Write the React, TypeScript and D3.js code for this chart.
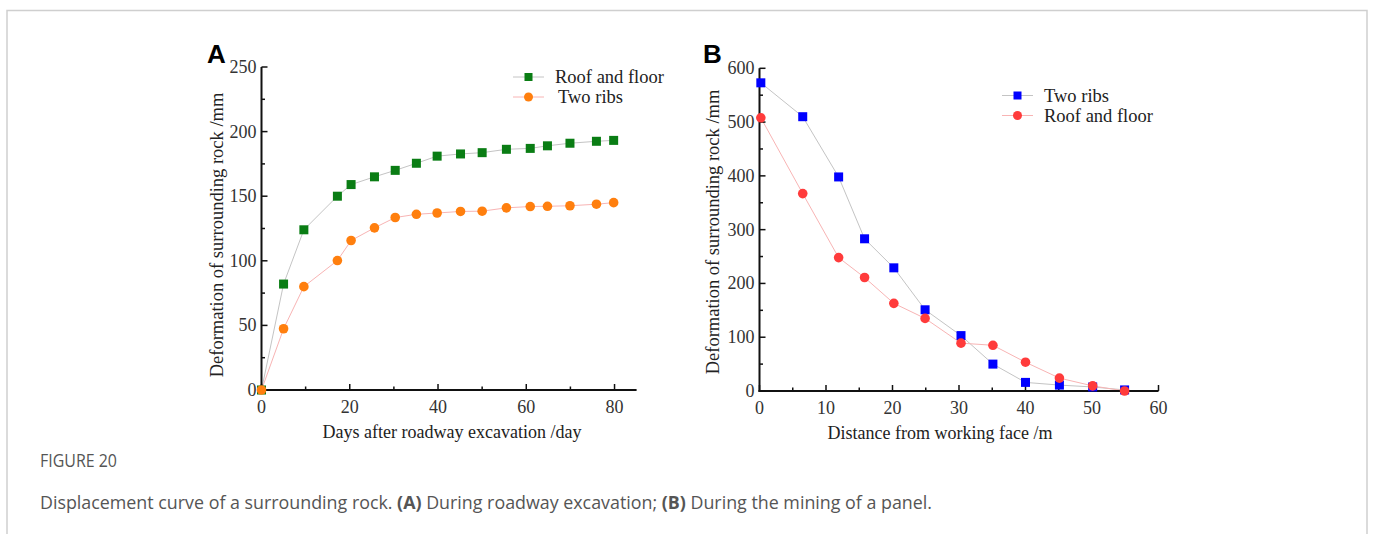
import React, { useEffect, useRef } from "react";
import * as d3 from "d3";

// Panel A: roadway excavation
const daysA = [0, 5, 9.6, 17.2, 20.3, 25.6, 30.3, 35.1, 39.8, 45.1, 50, 55.5, 60.9, 64.8, 69.9, 75.9, 79.8];
const roofFloorA = [0, 82, 124, 150, 159, 165, 170, 175.5, 181, 182.7, 183.7, 186.3, 187, 189, 191, 192.5, 193.2];
const twoRibsA = [0, 47.4, 80, 100.2, 115.7, 125.5, 133.5, 136, 137, 138.2, 138.4, 141, 142, 142.2, 142.6, 143.8, 145];

// Panel B: mining of a panel
const distB = [0.2, 6.5, 11.9, 15.8, 20.2, 24.9, 30.3, 35.1, 40, 45.1, 50.1, 54.9];
const twoRibsB = [573, 510, 398, 283, 229, 151, 103, 50, 16, 11, 7.5, 2];
const roofFloorB = [508, 367, 248, 211, 163, 135, 89, 85, 53.5, 24, 9.5, 0];

const ticksAx = [0, 20, 40, 60, 80];
const ticksAy = [0, 50, 100, 150, 200, 250];
const ticksBx = [0, 10, 20, 30, 40, 50, 60];
const ticksBy = [0, 100, 200, 300, 400, 500, 600];

const serif = "'Liberation Serif', 'DejaVu Serif', serif";
const sans = "'Open Sans', 'Liberation Sans', sans-serif";

function App() {
  const ref = useRef<SVGSVGElement>(null);

  useEffect(() => {
    const svg = d3.select(ref.current);
    svg.selectAll("*").remove();

    // outer frame
    svg.append("rect").attr("x", 7).attr("y", 10.5).attr("width", 1360).attr("height", 560)
      .attr("fill", "none").attr("stroke", "#cfcfcf").attr("stroke-width", 1.5);

    const panel = (opt: any) => {
      const { xs, ys, xTicks, yTicks, xMinor, yMinor, xTitle, xTitleX, yTitleX, yTitleY, label, labelX, series, legendX, legendY } = opt;
      const g = svg.append("g");

      const line = d3.line<number>().x((d, i) => xs(opt.xv[i])).y(d => ys(d));
      series.forEach((s: any) => {
        g.append("path").datum(s.values).attr("d", line).attr("fill", "none")
          .attr("stroke", s.lineColor).attr("stroke-width", 1);
      });

      // axes
      const [x0, x1] = xs.range();
      const [y0, y1] = ys.range();
      g.append("line").attr("x1", x0 - 1).attr("x2", x1).attr("y1", y0).attr("y2", y0)
        .attr("stroke", "#111").attr("stroke-width", 2);
      g.append("line").attr("x1", x0).attr("x2", x0).attr("y1", y0 + 1).attr("y2", y1)
        .attr("stroke", "#111").attr("stroke-width", 2);

      xTicks.forEach((t: number) => {
        g.append("line").attr("x1", xs(t)).attr("x2", xs(t)).attr("y1", y0).attr("y2", y0 - 6)
          .attr("stroke", "#111").attr("stroke-width", 1.5);
        g.append("text").attr("x", xs(t)).attr("y", y0 + 23).attr("text-anchor", "middle")
          .attr("font-family", serif).attr("font-size", 18).attr("fill", "#333").text(t);
      });
      xMinor.forEach((t: number) => {
        g.append("line").attr("x1", xs(t)).attr("x2", xs(t)).attr("y1", y0).attr("y2", y0 - 3.5)
          .attr("stroke", "#111").attr("stroke-width", 1.5);
      });
      yTicks.forEach((t: number) => {
        g.append("line").attr("x1", x0).attr("x2", x0 + 6).attr("y1", ys(t)).attr("y2", ys(t))
          .attr("stroke", "#111").attr("stroke-width", 1.5);
        g.append("text").attr("x", x0 - 5).attr("y", ys(t) + 6).attr("text-anchor", "end")
          .attr("font-family", serif).attr("font-size", 18).attr("fill", "#333").text(t);
      });
      yMinor.forEach((t: number) => {
        g.append("line").attr("x1", x0).attr("x2", x0 + 3.5).attr("y1", ys(t)).attr("y2", ys(t))
          .attr("stroke", "#111").attr("stroke-width", 1.5);
      });

      // markers
      series.forEach((s: any) => {
        s.values.forEach((v: number, i: number) => {
          const cx = xs(opt.xv[i]);
          const cy = ys(v);
          if (s.shape === "square") {
            g.append("rect").attr("x", cx - 4.5).attr("y", cy - 4.5).attr("width", 9).attr("height", 9)
              .attr("fill", s.color);
          } else {
            g.append("circle").attr("cx", cx).attr("cy", cy).attr("r", 4.8).attr("fill", s.color);
          }
        });
      });

      // titles
      g.append("text").attr("x", xTitleX).attr("y", y0 + 48).attr("text-anchor", "middle")
        .attr("font-family", serif).attr("font-size", 18).attr("fill", "#222").text(xTitle);
      g.append("text").attr("transform", `translate(${yTitleX},${yTitleY}) rotate(-90)`)
        .attr("text-anchor", "middle").attr("font-family", serif).attr("font-size", 18.5)
        .attr("fill", "#222").text("Deformation of surrounding rock /mm");
      g.append("text").attr("x", labelX).attr("y", 63).attr("font-family", "'Liberation Sans', Arial, sans-serif")
        .attr("font-weight", "bold").attr("font-size", 26).attr("fill", "#000").text(label);

      // legend
      series.forEach((s: any, i: number) => {
        const ly = legendY + i * 20;
        g.append("line").attr("x1", legendX).attr("x2", legendX + 31).attr("y1", ly).attr("y2", ly)
          .attr("stroke", s.lineColor).attr("stroke-width", 1);
        if (s.shape === "square") {
          g.append("rect").attr("x", legendX + 15.5 - 4).attr("y", ly - 4).attr("width", 8).attr("height", 8)
            .attr("fill", s.color);
        } else {
          g.append("circle").attr("cx", legendX + 15.5).attr("cy", ly).attr("r", 4.5).attr("fill", s.color);
        }
        g.append("text").attr("x", legendX + 42 + (s.legendShift || 0)).attr("y", ly + 6)
          .attr("font-family", serif).attr("font-size", 18.5).attr("fill", "#222").text(s.name);
      });
    };

    panel({
      xs: d3.scaleLinear().domain([0, 85]).range([261.5, 636.6]),
      ys: d3.scaleLinear().domain([0, 250]).range([390, 67]),
      xv: daysA,
      xTicks: ticksAx, yTicks: ticksAy,
      xMinor: [10, 30, 50, 70], yMinor: [25, 75, 125, 175, 225],
      xTitle: "Days after roadway excavation /day", xTitleX: 452,
      yTitleX: 223, yTitleY: 235,
      label: "A", labelX: 207,
      legendX: 513, legendY: 77,
      series: [
        { name: "Roof and floor", values: roofFloorA, color: "#0a7d14", lineColor: "#c4c4c4", shape: "square" },
        { name: "Two ribs", values: twoRibsA, color: "#ff7f0e", lineColor: "#f8b4b4", shape: "circle", legendShift: 3 },
      ],
    });

    panel({
      xs: d3.scaleLinear().domain([0, 60]).range([759.5, 1158.5]),
      ys: d3.scaleLinear().domain([0, 600]).range([391, 68.3]),
      xv: distB,
      xTicks: ticksBx, yTicks: ticksBy,
      xMinor: [5, 15, 25, 35, 45, 55], yMinor: [50, 150, 250, 350, 450, 550],
      xTitle: "Distance from working face /m", xTitleX: 940,
      yTitleX: 719, yTitleY: 232,
      label: "B", labelX: 703,
      legendX: 1002, legendY: 95.5,
      series: [
        { name: "Two ribs", values: twoRibsB, color: "#0000ff", lineColor: "#c4c4c4", shape: "square" },
        { name: "Roof and floor", values: roofFloorB, color: "#ff3b3b", lineColor: "#f8b4b4", shape: "circle" },
      ],
    });

    // caption
    svg.append("text").attr("x", 40).attr("y", 467).attr("font-family", sans)
      .attr("font-size", 18).attr("fill", "#555")
      .attr("textLength", 77).attr("lengthAdjust", "spacingAndGlyphs").text("FIGURE 20");
    const cap = svg.append("text").attr("x", 40).attr("y", 509)
      .attr("font-family", sans).attr("font-size", 17.5).attr("fill", "#555")
      .attr("textLength", 892).attr("lengthAdjust", "spacingAndGlyphs");
    cap.append("tspan").text("Displacement curve of a surrounding rock. ");
    cap.append("tspan").attr("font-weight", "bold").text("(A)");
    cap.append("tspan").text(" During roadway excavation; ");
    cap.append("tspan").attr("font-weight", "bold").text("(B)");
    cap.append("tspan").text(" During the mining of a panel.");
  }, []);

  return (
    <svg ref={ref} width={1373} height={534} style={{ position: "absolute", left: 0, top: 0, background: "#fff" }} />
  );
}

export default App;
